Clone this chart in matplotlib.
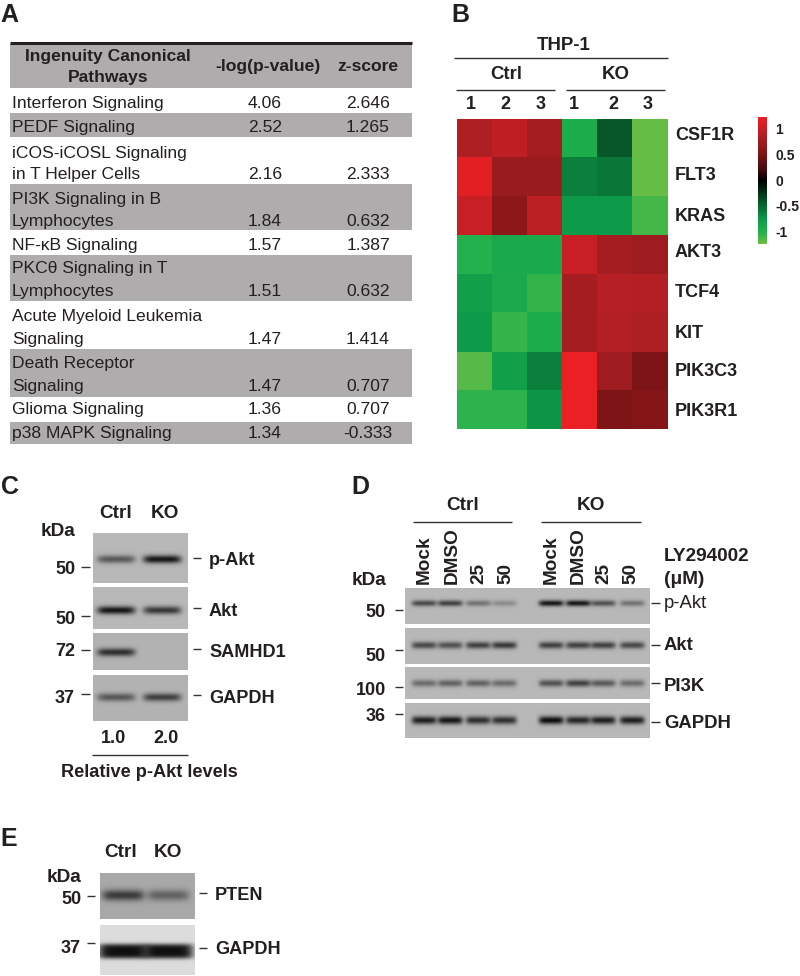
import matplotlib
matplotlib.use('Agg')

import matplotlib.pyplot as plt
import numpy as np
from matplotlib.colors import LinearSegmentedColormap

plt.rcParams['font.family'] = ['Liberation Sans', 'DejaVu Sans']

# panel A
pathways = [
	["Interferon Signaling"],
	["PEDF Signaling"],
	["iCOS-iCOSL Signaling", "in T Helper Cells"],
	["PI3K Signaling in B", "Lymphocytes"],
	["NF-κB Signaling"],
	["PKCθ Signaling in T", "Lymphocytes"],
	["Acute Myeloid Leukemia", "Signaling"],
	["Death Receptor", "Signaling"],
	["Glioma Signaling"],
	["p38 MAPK Signaling"],
]
log_p = ["4.06", "2.52", "2.16", "1.84", "1.57", "1.51", "1.47", "1.47", "1.36", "1.34"]
z_score = ["2.646", "1.265", "2.333", "0.632", "1.387", "0.632", "1.414", "0.707", "0.707", "-0.333"]

# panel B
genes = ["CSF1R", "FLT3", "KRAS", "AKT3", "TCF4", "KIT", "PIK3C3", "PIK3R1"]
replicates = ["1", "2", "3", "1", "2", "3"]
heat = [
	[0.85, 0.95, 0.80, -0.95, -0.42, -1.20],
	[1.15, 0.72, 0.72, -0.62, -0.58, -1.20],
	[1.00, 0.62, 0.92, -0.75, -0.75, -1.10],
	[-1.00, -0.92, -0.92, 1.00, 0.80, 0.75],
	[-0.80, -0.90, -1.04, 0.80, 0.90, 0.88],
	[-0.75, -1.05, -0.95, 0.80, 0.88, 0.85],
	[-1.15, -0.80, -0.62, 1.20, 0.75, 0.52],
	[-1.02, -1.02, -0.72, 1.20, 0.52, 0.57],
]
cbar_ticks = [1, 0.5, 0, -0.5, -1]
cbar_labels = ["1", "0.5", "0", "-0.5", "-1"]

# panel C
c_names = ["p-Akt", "Akt", "SAMHD1", "GAPDH"]
c_kda = ["50", "50", "72", "37"]
c_bands = [[0.55, 0.95], [0.95, 0.75], [0.80, 0.0], [0.55, 0.70]]
c_levels = ["1.0", "2.0"]

# panel D
d_names = ["p-Akt", "Akt", "PI3K", "GAPDH"]
d_kda = ["50", "50", "100", "36"]
d_lanes = ["Mock", "DMSO", "25", "50", "Mock", "DMSO", "25", "50"]
d_bands = [
	[0.65, 0.70, 0.40, 0.25, 0.95, 0.95, 0.60, 0.40],
	[0.65, 0.60, 0.70, 0.75, 0.70, 0.70, 0.70, 0.65],
	[0.45, 0.50, 0.50, 0.45, 0.60, 0.70, 0.55, 0.45],
	[0.90, 0.95, 0.80, 0.80, 1.00, 0.85, 0.90, 0.90],
]

# panel E
e_names = ["PTEN", "GAPDH"]
e_kda = ["50", "37"]
e_bands = [[0.70, 0.45], [1.00, 1.00]]

GRAY = '#aeacac'
DARK = '#231f20'
PX = 0.72  # px to pt at dpi 100


def label(ax, x, y, s, size=18, bold=True, ha='center', rotation=0):
	ax.text(x, y + 1.5, s, fontsize=size * PX, fontweight='bold' if bold else 'normal',
		ha=ha, va='center', color=DARK, rotation=rotation)


def hline(ax, x0, x1, y, lw=1.0, color='#333333'):
	ax.plot([x0, x1], [y, y], color=color, lw=lw, solid_capstyle='butt')


def blot(ax, x0, x1, y0, y1, lanes, values, band_y, width, height, bg=0.72, power=2):
	xs = np.arange(x0, x1, 0.5)
	ys = np.arange(y0, y1, 0.5)
	xx, yy = np.meshgrid(xs, ys)
	keep = np.ones(xx.shape)
	for lane, v in zip(lanes, values):
		shape = np.exp(-np.abs((xx - lane) / (width / 2)) ** 6) * np.exp(-np.abs((yy - band_y) / (height / 2)) ** power)
		keep *= 1 - v * 0.93 * shape
	ax.imshow(bg * keep, cmap='gray', vmin=0, vmax=1, aspect='auto',
		extent=(x0, x1, y1, y0), interpolation='bilinear')


fig = plt.figure(figsize=(8, 9.76), dpi=100)
ax = fig.add_axes([0, 0, 1, 1])
ax.axis('off')

for s, x, y in [("A", 9, 14), ("B", 460, 14), ("C", 10, 486), ("D", 360, 485), ("E", 9, 837)]:
	label(ax, x, y, s, size=25)

# --- A: table
ax.fill_between([10, 412], 44, 88, color=GRAY, lw=0)
hline(ax, 10, 412, 42.5, lw=2.2, color=DARK)
label(ax, 108, 55, "Ingenuity Canonical", 17.5)
label(ax, 108, 76, "Pathways", 17.5)
label(ax, 268, 65, "-log(p-value)", 17.5)
label(ax, 368, 65, "z-score", 17.5)

row_edges = [90, 113, 137, 184, 230, 255, 301, 349, 397, 422, 444]
text_y = [[102], [126], [152, 173], [198, 220], [244], [267, 290], [315, 338], [362, 385], [408], [432]]
for i in range(0, len(pathways)):
	if i % 2 == 1:
		ax.fill_between([10, 412], row_edges[i], row_edges[i + 1], color=GRAY, lw=0)
	for line, y in zip(pathways[i], text_y[i]):
		label(ax, 12, y, line, 17.5, bold=False, ha='left')
	label(ax, 265, text_y[i][-1], log_p[i], 17.5, bold=False)
	label(ax, 368, text_y[i][-1], z_score[i], 17.5, bold=False)

# --- B: heatmap
cmap = LinearSegmentedColormap.from_list('gkr', [
	(0.0, '#6cbe45'), (0.09, '#22b14c'), (0.19, '#0d9b4a'), (0.5, '#000000'),
	(0.6, '#4a0c0e'), (0.71, '#7c1416'), (0.85, '#ad1f23'), (1.0, '#ee2024')])
col_pos = [457.3, 492.3, 526.7, 561.7, 597.3, 632.3, 667.7]
row_pos = [119, 157.3, 195.7, 235, 274, 312.3, 351.7, 390, 429.3]
ax.pcolormesh(col_pos, row_pos, np.array(heat), cmap=cmap, vmin=-1.22, vmax=1.22)

label(ax, 564, 44, "THP-1", 18.6)
hline(ax, 454, 668, 58)
label(ax, 506, 73, "Ctrl", 18.6)
label(ax, 616, 73, "KO", 18.6)
hline(ax, 456, 555, 89.5)
hline(ax, 566, 665, 89.5)
for x, s in zip([471, 505, 541, 574, 613, 648], replicates):
	label(ax, x, 103, s, 18)
for y, s in zip([134, 174, 215, 251, 291, 332, 370, 410], genes):
	label(ax, 675, y, s, 18, ha='left')

gradient = np.linspace(1.22, -1.22, 128).reshape(-1, 1)
ax.imshow(gradient, cmap=cmap, vmin=-1.22, vmax=1.22, aspect='auto', extent=(758, 767, 244, 117))
for t, s in zip(cbar_ticks, cbar_labels):
	label(ax, 775, 180 - t * 51.5, s, 14, ha='left')

# --- C: blots
c_rows = [(533, 583), (587, 629), (633, 670), (675, 721)]
c_y = [559, 610, 652, 697]
c_bg = [0.72, 0.72, 0.70, 0.70]
for i in range(0, 4):
	blot(ax, 93, 188, c_rows[i][0], c_rows[i][1], [116, 162], c_bands[i], c_y[i], 38, 8, c_bg[i])
label(ax, 116, 512, "Ctrl", 19)
label(ax, 165, 512, "KO", 19)
label(ax, 58, 530, "kDa", 19)
for y, tick, s in zip([568, 618, 650, 697], [567, 616, 650, 694], c_kda):
	label(ax, 65, y, s, 18)
	hline(ax, 81, 90, tick)
for y, tick, s in zip([559, 610, 651, 697], [558, 608, 649, 695], c_names):
	hline(ax, 193, 201, tick)
	label(ax, 209, y, s, 18.2, ha='left')
label(ax, 114, 737, c_levels[0], 18)
label(ax, 166, 737, c_levels[1], 18)
hline(ax, 92, 188, 755)
label(ax, 149, 771, "Relative p-Akt levels", 18.2)

# --- D: blots
d_rows = [(588, 624), (628, 664), (667, 699), (703, 738)]
d_y = [603, 645, 683, 720]
d_x = [424, 450, 478, 504, 551, 578, 603, 632]
d_h = [6, 7, 7, 8]
for i in range(0, 4):
	blot(ax, 405, 650, d_rows[i][0], d_rows[i][1], d_x, d_bands[i], d_y[i], 25, d_h[i], 0.72)
label(ax, 463, 504, "Ctrl", 19)
label(ax, 591, 504, "KO", 19)
hline(ax, 413, 512, 521.5)
hline(ax, 541, 641, 521.5)
for x, s in zip([424, 452, 479, 506, 551, 578, 604, 631], d_lanes):
	ax.text(x, 584, s, fontsize=19 * PX, fontweight='bold', rotation=90, ha='center', va='bottom', color=DARK)
label(ax, 369, 579, "kDa", 19)
label(ax, 664, 555, "LY294002", 19, ha='left')
label(ax, 664, 578, "(μM)", 19, ha='left')
for x, y, tick, s in zip([375, 375, 371, 376], [611, 655, 689, 715], [610, 650, 687, 714], d_kda):
	label(ax, x, y, s, 18)
	hline(ax, 395, 403, tick)
for y, tick, s, b in zip([602, 644, 685, 722], [603, 645, 683, 722], d_names, [False, True, True, True]):
	hline(ax, 651, 660, tick)
	label(ax, 664, y, s, 18.5, bold=b, ha='left')

# --- E: blots
blot(ax, 100, 195, 873, 919, [123, 168], e_bands[0], 895, 42, 11, 0.66)
blot(ax, 100, 195, 925, 975, [123, 168], e_bands[1], 951, 50, 15, 0.86, power=4)
label(ax, 121, 851, "Ctrl", 19)
label(ax, 168, 851, "KO", 19)
label(ax, 64, 876, "kDa", 19)
for y, tick, s in zip([898, 947], [896, 943], e_kda):
	label(ax, 71, y, s, 18)
	hline(ax, 87, 95, tick)
for y, tick, s in zip([894, 948], [893, 948], e_names):
	hline(ax, 199, 207, tick)
	label(ax, 215, y, s, 18.2, ha='left')

ax.set_xlim(0, 800)
ax.set_ylim(976, 0)
fig.savefig('out.png', dpi=100)
